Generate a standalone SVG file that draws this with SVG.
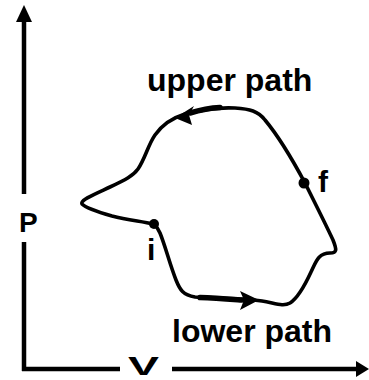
<svg xmlns="http://www.w3.org/2000/svg" width="369" height="380" viewBox="0 0 369 380">
<style>
.ax{stroke:#000;stroke-width:4.5;fill:none}
.cv{stroke:#000;stroke-width:3.6;fill:none;stroke-linejoin:round;stroke-linecap:round}
.thick{stroke:#000;stroke-width:5.5;fill:none;stroke-linecap:round}
.hd{fill:#000}
.t{font-family:"Liberation Sans",Arial,sans-serif;font-weight:bold;fill:#000}
</style>
<rect width="369" height="380" fill="#fff"/>
<g id="axes">
<line class="ax" x1="24" y1="20" x2="24" y2="194"/>
<line class="ax" x1="24" y1="242" x2="24" y2="371"/>
<line class="ax" x1="22" y1="369" x2="120" y2="369"/>
<line class="ax" x1="172" y1="369" x2="358" y2="369"/>
<polygon class="hd" points="24,5 16,22 32,22"/>
<polygon class="hd" points="369,369 356,361 356,377"/>
</g>
<g id="cycle">
<path class="cv" d="M154,224 C140,221 128,220 112,216 C98,212 86,208 82,204 C80,200 95,194 110,187 C125,180 133,176 138,169 C145,159 148,145 155,135 C162,125 172,118 185,114 C200,110 215,107 235,108 C250,109 258,111 265,120 C275,132 290,155 305,183 C315,203 326,225 333,240 C337,250 337,253 330,253 C318,253 316,262 311,272 C305,285 298,298 290,303 C283,307 275,303 262,301 C240,298 210,298 195,297 C183,295 180,290 176,280 C170,265 165,245 160,233 C158,228 156,226 154,224 Z"/>
</g>
<g id="connectors">
<path class="thick" d="M190,113 C200,110 210,108 220,107.5"/>
<polygon class="hd" points="175,118 194,106 189,115 192,125"/>
<path class="thick" d="M200,297.5 C215,298 228,299 242,300"/>
<polygon class="hd" points="259,300 240,291 244,300 240,310"/>
</g>
<g id="node-i">
<circle cx="154" cy="224" r="5" class="hd"/>
<text class="t" x="147" y="260" font-size="30">i</text>
</g>
<g id="node-f">
<circle cx="304" cy="183" r="5.5" class="hd"/>
<text class="t" x="318" y="192" font-size="30">f</text>
</g>
<g id="labels">
<text class="t" x="147" y="91" font-size="32">upper path</text>
<text class="t" x="172" y="342" font-size="32">lower path</text>
<text class="t" x="19" y="232" font-size="28">P</text>
<text class="t" x="128" y="375" font-size="26" textLength="31" lengthAdjust="spacingAndGlyphs">V</text>
</g>
</svg>
